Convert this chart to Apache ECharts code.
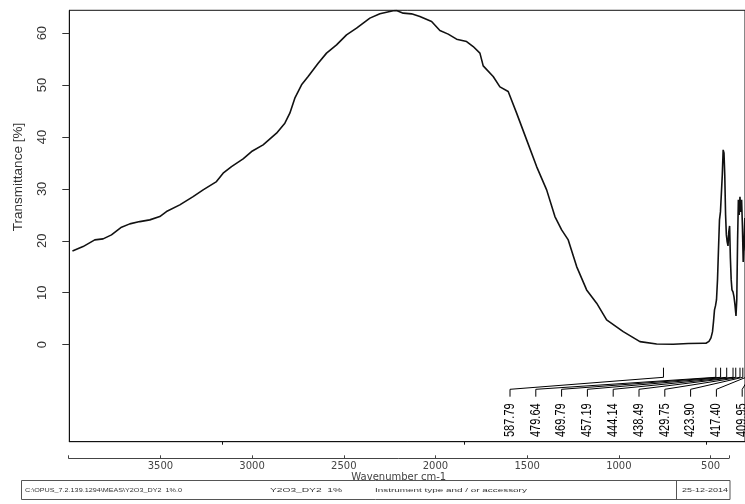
<!DOCTYPE html>
<html>
<head>
<meta charset="utf-8">
<script src="https://cdn.jsdelivr.net/npm/echarts@6/dist/echarts.min.js"></script>
<style>
html, body { margin: 0; padding: 0; background: #fff; }
#chart { width: 745px; height: 504px; }
</style>
</head>
<body>
<div id="chart"></div>
<script>
// spectrum (upper panel): wavenumber cm-1 / transmittance %
var wavenumber = [1808.5, 1786.6, 1762.4, 1745.2, 1727.9, 1707.2, 1690.1, 1669.4, 1648.8, 1628.1,
  1614.3, 1586.8, 1559.3, 1538.6, 1511.0, 1497.3, 1480.0, 1456.0, 1438.6, 1414.7,
  1387.0, 1369.8, 1359.5, 1349.2, 1335.3, 1321.7, 1301.0, 1283.7, 1263.0, 1242.4,
  1221.7, 1194.2, 1173.5, 1146.1, 1139.1, 1125.4, 1108.1, 1090.9, 1066.7, 1049.6,
  1032.4, 1015.1, 994.4, 980.8, 966.9, 960.1, 939.5, 925.6, 908.5, 891.1,
  870.4, 849.8, 829.1, 812.0, 798.1, 784.5, 767.1, 746.5, 725.8, 705.2,
  670.9, 636.4, 601.9, 567.6, 536.6, 505.6,
  500.0, 493.8, 489.7, 486.6, 484.5, 482.4, 480.4, 478.3, 476.2, 474.2,
  472.1, 470.1, 468.0, 466.3, 464.5, 462.8, 461.2, 459.5, 457.9, 456.2,
  454.5, 452.9, 451.2, 449.6, 447.9, 446.3, 444.2, 442.1, 440.1, 438.0,
  436.4, 434.7, 433.1, 431.4, 429.8, 428.1, 426.4, 424.8, 423.1, 421.5,
  419.8, 418.2, 415.3];
var transmittance = [18.05, 18.88, 20.17, 20.37, 21.14, 22.62, 23.26, 23.70, 24.03, 24.66,
  25.63, 26.92, 28.52, 29.81, 31.41, 33.03, 34.30, 35.78, 37.19, 38.48,
  40.73, 42.66, 44.59, 47.48, 50.04, 51.64, 54.22, 56.15, 57.75, 59.67,
  60.96, 62.89, 63.72, 64.30, 64.35, 63.85, 63.72, 63.20, 62.24, 60.50,
  59.81, 58.84, 58.38, 57.42, 56.15, 53.70, 51.64, 49.65, 48.75, 44.59,
  39.44, 34.30, 29.81, 24.66, 22.10, 20.17, 15.03, 10.54, 7.98, 4.76,
  2.50, 0.58, 0.13, 0.08, 0.23, 0.27,
  0.27, 0.62, 1.29, 2.45, 4.37, 6.69, 7.46, 8.61, 12.47, 18.25,
  24.03, 25.57, 25.38, 32.70, 37.51, 36.94, 32.70, 24.99, 21.14, 19.79,
  19.02, 21.71, 22.87, 16.71, 12.47, 10.54, 10.15, 9.19, 7.65, 5.53,
  8.61, 20.17, 27.88, 24.99, 28.46, 25.57, 27.88, 23.06, 15.93, 19.21,
  24.41, 18.25, 16.71];

// peak picking
var peakPositions = [587.79, 479.64, 469.79, 457.19, 444.14, 438.49, 429.75, 423.90, 417.40, 409.95];
var peakLabels = ['587.79', '479.64', '469.79', '457.19', '444.14', '438.49', '429.75', '423.90', '417.40', '409.95'];

// ticks
var yTicks = [0, 10, 20, 30, 40, 50, 60];
var upperTicks = [1500, 1000, 500];
var lowerTicks = [4000, 3500, 3000, 2500, 2000, 1500, 1000, 500, 400];
var lowerLabels = [3500, 3000, 2500, 2000, 1500, 1000, 500];

// footer
var footerTexts = ['C:\\OPUS_7.2.139.1294\\MEAS\\Y2O3_DY2  1%.0', 'Y2O3_DY2  1%', 'Instrument type and / or accessory', '25-12-2014'];

var chart = echarts.init(document.getElementById('chart'));

function renderPeak(params, api) {
  var cs = params.coordSys;
  var bottom = cs.y + cs.height;
  var i = api.value(1);
  var px = api.coord([api.value(0), 0])[0];
  var lx = 510 + i * 25.8;
  return {
    type: 'group',
    children: [
      {
        type: 'polyline',
        shape: { points: [[lx, bottom - 45], [lx, bottom - 52.4], [px, bottom - 64.4], [px, bottom - 74]] },
        style: { stroke: '#000', lineWidth: 1, fill: null }
      },
      {
        type: 'text',
        x: lx, y: bottom - 21.5,
        rotation: Math.PI / 2,
        scaleY: 1.25,
        style: {
          text: peakLabels[i], textAlign: 'center', textVerticalAlign: 'middle',
          font: '11px "Liberation Sans", Arial, sans-serif', fill: '#000'
        }
      }
    ]
  };
}

var footerFont = '6px "Liberation Sans", Arial, sans-serif';

var option = {
  animation: false,
  backgroundColor: '#fff',
  grid: [
    { left: 69.3, top: 10.3, right: 0, bottom: 62.3, show: true, borderColor: '#111', borderWidth: 1 },
    { left: 68.7, right: 16.1, top: 440, bottom: 45.7 }
  ],
  xAxis: [
    {
      gridIndex: 0, type: 'value', inverse: true, min: 419.4, max: 1815,
      axisLine: { show: true, onZero: false, lineStyle: { color: '#111' } },
      axisTick: { show: true, customValues: upperTicks, length: 3, lineStyle: { color: '#111' } },
      axisLabel: { show: false },
      splitLine: { show: false }
    },
    {
      gridIndex: 1, type: 'value', inverse: true, min: 400, max: 4000,
      name: 'Wavenumber cm-1', nameLocation: 'middle', nameGap: 11,
      nameTextStyle: { fontSize: 10, color: '#444', fontFamily: 'DejaVu Sans' },
      axisLine: { show: true, onZero: false, lineStyle: { color: '#444' } },
      axisTick: { show: true, inside: true, length: 3, customValues: lowerTicks, lineStyle: { color: '#444' } },
      axisLabel: {
        customValues: lowerLabels, margin: 3, fontSize: 10, color: '#444', fontFamily: 'DejaVu Sans',
        formatter: function (v) { return String(v); }
      },
      splitLine: { show: false }
    }
  ],
  yAxis: [
    {
      gridIndex: 0, type: 'value', min: -18.7, max: 64.4,
      name: 'Transmittance [%]', nameLocation: 'middle', nameGap: 44,
      nameTextStyle: { fontSize: 13.5, color: '#333', fontFamily: '"Liberation Sans", Arial', padding: [0, 0, 0, 98] },
      axisLine: { show: true, lineStyle: { color: '#111' } },
      axisTick: { show: true, customValues: yTicks, length: 7, lineStyle: { color: '#333' } },
      axisLabel: { customValues: yTicks, rotate: 90, margin: 20, fontSize: 13, color: '#333', fontFamily: '"Liberation Sans", Arial' },
      splitLine: { show: false }
    },
    { gridIndex: 1, type: 'value', show: false }
  ],
  series: [
    {
      type: 'line', xAxisIndex: 0, yAxisIndex: 0,
      data: wavenumber.map(function (w, i) { return [w, transmittance[i]]; }),
      showSymbol: false, clip: true, silent: true,
      lineStyle: { color: '#111', width: 1.6 }
    },
    {
      type: 'custom', xAxisIndex: 0, yAxisIndex: 0,
      data: peakPositions.map(function (p, i) { return [p, i]; }),
      renderItem: renderPeak, clip: false, silent: true
    }
  ],
  graphic: [
    { type: 'rect', shape: { x: 21.5, y: 480.5, width: 708.5, height: 19 }, style: { fill: null, stroke: '#555', lineWidth: 1 } },
    { type: 'line', shape: { x1: 676.5, y1: 480.5, x2: 676.5, y2: 499.5 }, style: { stroke: '#555', lineWidth: 1 } },
    { type: 'text', x: 25, y: 490, scaleX: 1.2, style: { text: footerTexts[0], font: footerFont, fill: '#333', textVerticalAlign: 'middle' } },
    { type: 'text', x: 270, y: 490, scaleX: 1.7, style: { text: footerTexts[1], font: footerFont, fill: '#333', textVerticalAlign: 'middle' } },
    { type: 'text', x: 375, y: 490, scaleX: 1.65, style: { text: footerTexts[2], font: footerFont, fill: '#333', textVerticalAlign: 'middle' } },
    { type: 'text', x: 682, y: 490, scaleX: 1.5, style: { text: footerTexts[3], font: footerFont, fill: '#333', textVerticalAlign: 'middle' } }
  ]
};

chart.setOption(option);
</script>
</body>
</html>
